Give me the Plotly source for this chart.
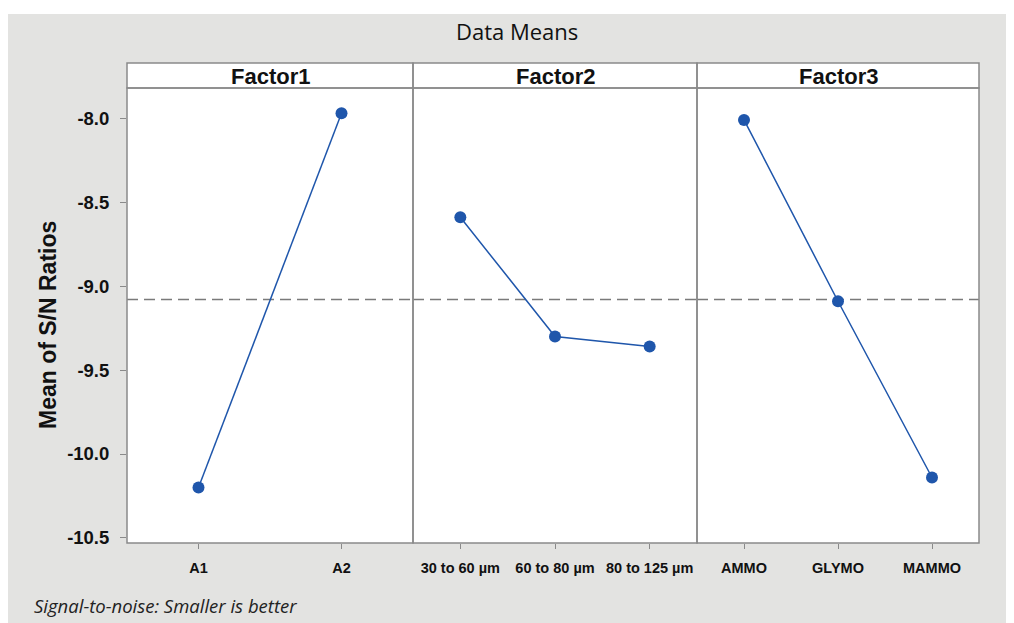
import plotly.graph_objects as go

# ---- data ----
factor_names = ["Factor1", "Factor2", "Factor3"]
f1_levels = ["A1", "A2"]
f1_means = [-10.20, -7.97]
f2_levels = ["30 to 60 µm", "60 to 80 µm", "80 to 125 µm"]
f2_means = [-8.59, -9.30, -9.36]
f3_levels = ["AMMO", "GLYMO", "MAMMO"]
f3_means = [-8.01, -9.09, -10.14]
overall_mean = -9.08
y_ticks = [-8.0, -8.5, -9.0, -9.5, -10.0, -10.5]

levels = [f1_levels, f2_levels, f3_levels]
means = [f1_means, f2_means, f3_means]

# page offset caused by the default body margin
OFF = 8
W, H = 1014 - OFF, 623 - OFF
# desired plot area in page pixels
PL, PR, PT, PB = 127, 979, 88, 543
L = PL - OFF
T = PT - OFF
R = W - (PR - OFF)
B = H - (PB - OFF)
pw = PR - PL
ph = PB - PT

def px_to_paper_x(px):  # page px -> paper
    return (px - PL) / pw

def px_to_paper_y(py):
    return (PB - py) / ph

bounds = [127, 413, 697, 979]
domains = [[px_to_paper_x(bounds[i]), px_to_paper_x(bounds[i + 1])] for i in range(3)]

BLUE = "#1f56ab"
BORDER = "#8a8a8a"
BG = "#e3e3e1"
FONT = "Liberation Sans, Arial"

fig = go.Figure()

for i in range(3):
    xa = "x" if i == 0 else f"x{i+1}"
    fig.add_trace(go.Scatter(
        x=levels[i], y=means[i], mode="lines+markers",
        line=dict(color=BLUE, width=1.5),
        marker=dict(color=BLUE, size=12),
        xaxis=xa, yaxis="y", showlegend=False,
        cliponaxis=False,
    ))

yr = [-10.53, -7.82]
layout = dict(
    width=W, height=H,
    margin=dict(l=L, r=R, t=T, b=B, pad=0),
    paper_bgcolor=BG,
    plot_bgcolor="white",
    showlegend=False,
    font=dict(family=FONT, color="black"),
    yaxis=dict(
        range=yr, tickvals=y_ticks, ticktext=[f"<b>{v:.1f}</b>" for v in y_ticks],
        ticks="outside", ticklen=6, tickcolor=BORDER, tickwidth=1,
        ticklabelstandoff=7,
        showgrid=False, zeroline=False, showline=False,
        tickfont=dict(family=FONT, size=18.5, color="#111"),
        anchor="x",
    ),
)
for i in range(3):
    key = "xaxis" if i == 0 else f"xaxis{i+1}"
    n = len(levels[i])
    layout[key] = dict(
        domain=domains[i], range=[-0.5, n - 0.5],
        type="category", categoryorder="array", categoryarray=levels[i],
        ticks="outside", ticklen=5, tickcolor=BORDER, tickwidth=1,
        ticklabelstandoff=7,
        showgrid=False, zeroline=False, showline=False,
        tickfont=dict(family=FONT, size=14.5, color="#111"),
        tickprefix="<b>", ticksuffix="</b>",
        anchor="y",
    )
fig.update_layout(**layout)

shapes = []
# white band at the top (page y < 14)
shapes.append(dict(type="rect", xref="paper", yref="paper", layer="below",
                   x0=px_to_paper_x(0), x1=px_to_paper_x(1040),
                   y0=px_to_paper_y(14), y1=px_to_paper_y(-10),
                   fillcolor="white", line=dict(width=0)))
# white plot + strip area
shapes.append(dict(type="rect", xref="paper", yref="paper", layer="below",
                   x0=0, x1=1, y0=0, y1=px_to_paper_y(63),
                   fillcolor="white", line=dict(width=0)))
for i in range(3):
    shapes.append(dict(type="rect", xref="paper", yref="paper", layer="above",
                       x0=domains[i][0], x1=domains[i][1], y0=0, y1=1,
                       line=dict(color=BORDER, width=1.5)))
    shapes.append(dict(type="rect", xref="paper", yref="paper", layer="above",
                       x0=domains[i][0], x1=domains[i][1], y0=1, y1=px_to_paper_y(63),
                       line=dict(color=BORDER, width=1.5)))
    xa = "x" if i == 0 else f"x{i+1}"
    shapes.append(dict(type="line", xref=f"{xa} domain", yref="y", layer="below",
                       x0=0, x1=1, y0=overall_mean, y1=overall_mean,
                       line=dict(color="#7a7a7a", width=1.5, dash="11px,6px")))
fig.update_layout(shapes=shapes)

annotations = []
for i in range(3):
    annotations.append(dict(
        text=f"<b>{factor_names[i]}</b>", xref="paper", yref="paper",
        x=(domains[i][0] + domains[i][1]) / 2, y=px_to_paper_y(76),
        xanchor="center", yanchor="middle", showarrow=False,
        font=dict(family=FONT, size=22, color="#111")))
annotations.append(dict(
    text="<b>Mean of S/N Ratios</b>", xref="paper", yref="paper",
    x=px_to_paper_x(48), y=px_to_paper_y(325), textangle=-90,
    xanchor="center", yanchor="middle", showarrow=False,
    font=dict(family=FONT, size=23, color="#111")))
annotations.append(dict(
    text="Data Means", xref="paper", yref="paper",
    x=px_to_paper_x(517), y=px_to_paper_y(31),
    xanchor="center", yanchor="middle", showarrow=False,
    font=dict(family="Open Sans, Noto Sans", size=22, color="#111")))
annotations.append(dict(
    text="<i>Signal-to-noise: Smaller is better</i>", xref="paper", yref="paper",
    x=px_to_paper_x(32), y=px_to_paper_y(605),
    xanchor="left", yanchor="middle", showarrow=False,
    font=dict(family="Open Sans, Noto Sans", size=18.5, color="#222")))
fig.update_layout(annotations=annotations)

fig.write_html("out.html")
